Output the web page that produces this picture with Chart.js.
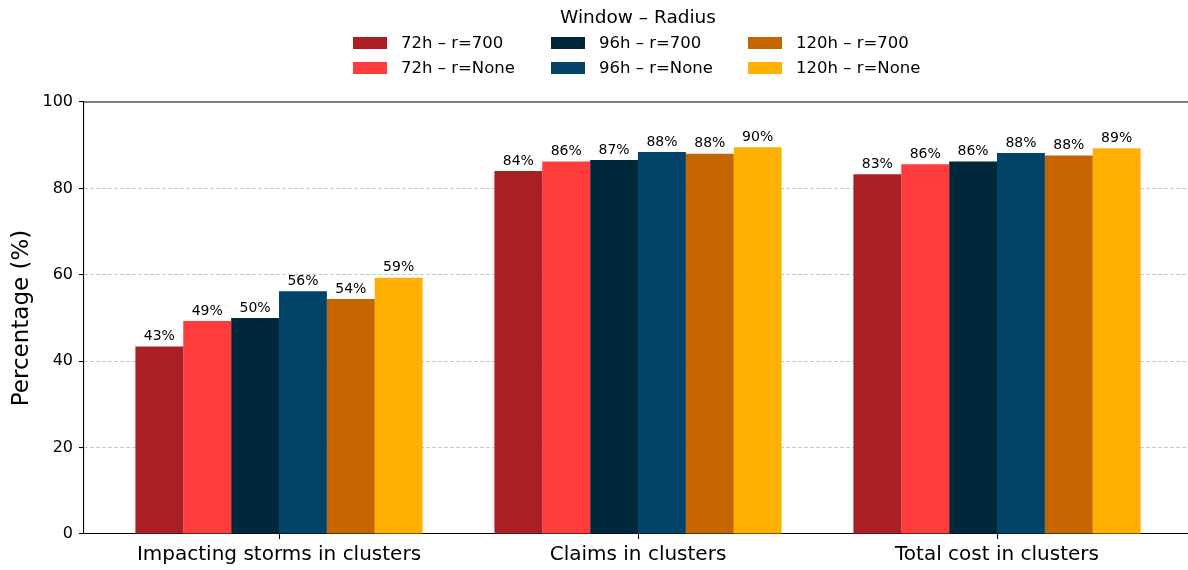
<!DOCTYPE html>
<html>
<head>
<meta charset="utf-8">
<script src="https://cdn.jsdelivr.net/npm/chart.js@4"></script>
<style>
  body { margin: 0; background: #fff; }
  #wrap { position: relative; width: 1188px; height: 570px; }
  #legendTitle {
    position: absolute; left: 538px; top: 4px; width: 200px; text-align: center;
    font: 18.5px "DejaVu Sans"; line-height: 26px; color: #000;
  }
  #legend {
    position: absolute; left: 353px; top: 30px;
    display: grid; grid-template-rows: 25px 25px; grid-template-columns: 198px 197px 200px;
    grid-auto-flow: column;
    font: 16.5px "DejaVu Sans"; color: #000;
  }
  .item { display: flex; align-items: center; white-space: nowrap; }
  .box { width: 34px; height: 12px; margin-right: 14px; }
</style>
</head>
<body>
<div id="wrap">
  <canvas id="myChart" width="1188" height="570"></canvas>
  <div id="legendTitle">Window – Radius</div>
  <div id="legend"></div>
</div>
<script>
const categories = ['Impacting storms in clusters', 'Claims in clusters', 'Total cost in clusters']
const seriesNames = ['72h – r=700', '72h – r=None', '96h – r=700', '96h – r=None', '120h – r=700', '120h – r=None']
const seriesColors = ['#A91F24', '#FF3B3B', '#00273A', '#014468', '#C46500', '#FFB000']

const h72_r700 = [43.4, 84.0, 83.3]
const h72_none = [49.3, 86.2, 85.6]
const h96_r700 = [50.0, 86.6, 86.2]
const h96_none = [56.2, 88.4, 88.2]
const h120_r700 = [54.4, 88.0, 87.6]
const h120_none = [59.3, 89.5, 89.3]
const yTicks = [0, 20, 40, 60, 80, 100]

const allSeries = [h72_r700, h72_none, h96_r700, h96_none, h120_r700, h120_none]

const datasets = allSeries.map((vals, i) => ({
    label: seriesNames[i],
    backgroundColor: seriesColors[i],
    borderWidth: 0,
    data: vals.map((v, j) => ({x: j, y: v}))
}))

const valueLabels = {
    id: 'valueLabels',
    afterDatasetsDraw(chart) {
        let ctx = chart.ctx
        ctx.save()
        ctx.font = '14px "DejaVu Sans"'
        ctx.fillStyle = '#000'
        ctx.textAlign = 'center'
        ctx.textBaseline = 'bottom'
        chart.data.datasets.forEach((ds, i) => {
            chart.getDatasetMeta(i).data.forEach((bar, j) => {
                ctx.fillText(Math.round(ds.data[j].y) + '%', bar.x, bar.y - 3)
            })
        })
        ctx.restore()
    }
}

const topSpine = {
    id: 'topSpine',
    afterDraw(chart) {
        let a = chart.chartArea
        let ctx = chart.ctx
        ctx.save()
        ctx.strokeStyle = '#000'
        ctx.lineWidth = 1.1
        ctx.beginPath()
        ctx.moveTo(a.left, a.top)
        ctx.lineTo(a.right, a.top)
        ctx.stroke()
        ctx.restore()
    }
}

const config = {
    type: 'bar',
    data: { datasets: datasets },
    options: {
        responsive: false,
        animation: false,
        layout: { padding: { top: 102, left: 0, right: 0, bottom: 0 } },
        datasets: { bar: { categoryPercentage: 0.8, barPercentage: 1.0 } },
        plugins: { legend: { display: false }, tooltip: { enabled: false } },
        scales: {
            x: {
                type: 'linear',
                offset: false,
                min: -0.5432,
                max: 2.532,
                afterBuildTicks: scale => { scale.ticks = categories.map((c, i) => ({value: i})) },
                afterFit: scale => { scale.height = 36 },
                ticks: {
                    callback: v => categories[v],
                    font: { family: 'DejaVu Sans', size: 20 },
                    color: '#000',
                    padding: 4,
                    maxRotation: 0,
                    autoSkip: false
                },
                grid: { offset: false, drawOnChartArea: false, drawTicks: true, tickLength: 5, tickColor: '#000', tickWidth: 1.1 },
                border: { display: true, color: '#000', width: 1.1 }
            },
            y: {
                min: 0,
                max: 100,
                afterBuildTicks: scale => { scale.ticks = yTicks.map(v => ({value: v})) },
                afterFit: scale => { scale.width = 84 },
                ticks: {
                    font: { family: 'DejaVu Sans', size: 16 },
                    color: '#000',
                    padding: 6
                },
                title: {
                    display: true,
                    text: 'Percentage (%)',
                    font: { family: 'DejaVu Sans', size: 23 },
                    color: '#000',
                    padding: { top: 8 }
                },
                grid: {
                    color: c => (c.tick && (c.tick.value === 0 || c.tick.value === 100)) ? 'rgba(0,0,0,0)' : '#c8c8c8',
                    lineWidth: 1.1,
                    tickLength: 5,
                    tickColor: '#000',
                    tickWidth: 1.1,
                    tickBorderDash: []
                },
                border: { display: true, color: '#000', width: 1.1, dash: [4, 2] }
            }
        }
    },
    plugins: [valueLabels, topSpine]
}

let chart = new Chart(document.querySelector('#myChart'), config)

let legendDiv = document.querySelector('#legend')
chart.data.datasets.forEach(ds => {
    let item = document.createElement('div')
    item.className = 'item'
    let box = document.createElement('span')
    box.className = 'box'
    box.style.background = ds.backgroundColor
    let txt = document.createElement('span')
    txt.innerText = ds.label
    item.append(box)
    item.append(txt)
    legendDiv.append(item)
})
</script>
</body>
</html>
